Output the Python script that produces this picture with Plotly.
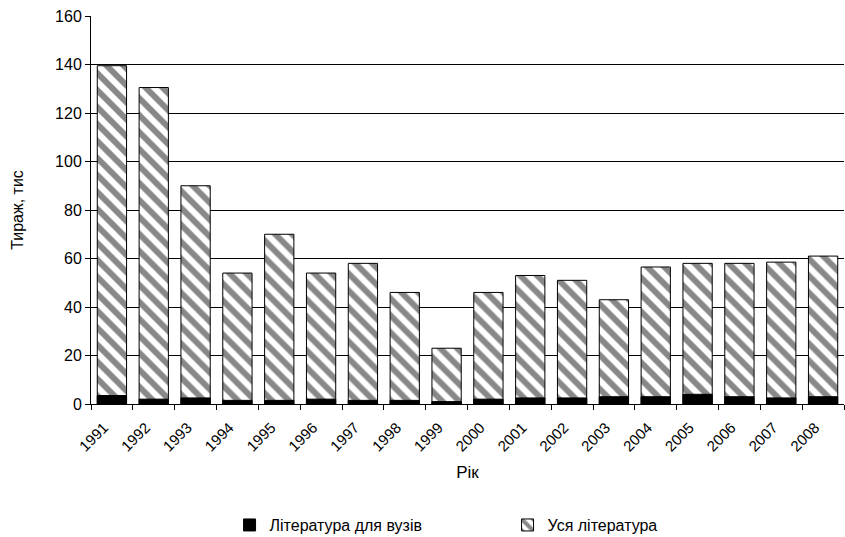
import plotly.graph_objects as go

years = [str(y) for y in range(1991, 2009)]
all_lit = [139.5, 130.5, 90, 54, 70, 54, 58, 46, 23, 46, 53, 51, 43, 56.5, 58, 58, 58.5, 61]
uni_lit = [3.5, 2, 2.5, 1.5, 1.5, 2, 1.5, 1.5, 1, 2, 2.5, 2.5, 3, 3, 4, 3, 2.5, 3]

fig = go.Figure()
fig.add_trace(go.Bar(
    x=years, y=all_lit, name="Уся література", legendrank=2,
    marker=dict(color="white", line=dict(color="black", width=1),
                pattern=dict(shape="\\", fgcolor="#111111", bgcolor="white", size=12, solidity=0.5)),
))
fig.add_trace(go.Bar(
    x=years, y=uni_lit, name="Література для вузів", legendrank=1,
    marker=dict(color="black", line=dict(color="black", width=1)),
))
fig.update_layout(
    barmode="overlay", bargap=0.3,
    width=845, height=537,
    margin=dict(l=91, r=1, t=16, b=133, autoexpand=False),
    paper_bgcolor="white", plot_bgcolor="white",
    font=dict(family="Liberation Sans, Arial, sans-serif", size=16, color="black"),
    legend=dict(orientation="h", x=0.184, xanchor="left", y=-0.312, yanchor="middle",
                font=dict(size=16), itemwidth=30, traceorder="normal",
                entrywidth=233, entrywidthmode="pixels"),
    showlegend=True,
)
fig.update_xaxes(type="category", tickangle=-45, tickson="boundaries", ticks="outside",
                 ticklen=5, tickcolor="black", showline=True, linecolor="black",
                 showgrid=False, automargin=False, tickfont=dict(size=15),
                 ticklabelstandoff=8, ticklabelshift=-8,
                 title=dict(text="Рік", font=dict(size=17), standoff=12))
fig.update_yaxes(range=[0, 160], dtick=20, ticks="outside", ticklen=5, tickcolor="black",
                 showline=True, linecolor="black", showgrid=True, gridcolor="black", gridwidth=1,
                 zeroline=False, automargin=False, tickfont=dict(size=16),
                 title=dict(text="Тираж, тис", font=dict(size=16), standoff=27))
fig.write_html("out.html", config={"displayModeBar": False},
               post_script="document.body.style.margin='0';document.body.style.overflow='hidden';")
